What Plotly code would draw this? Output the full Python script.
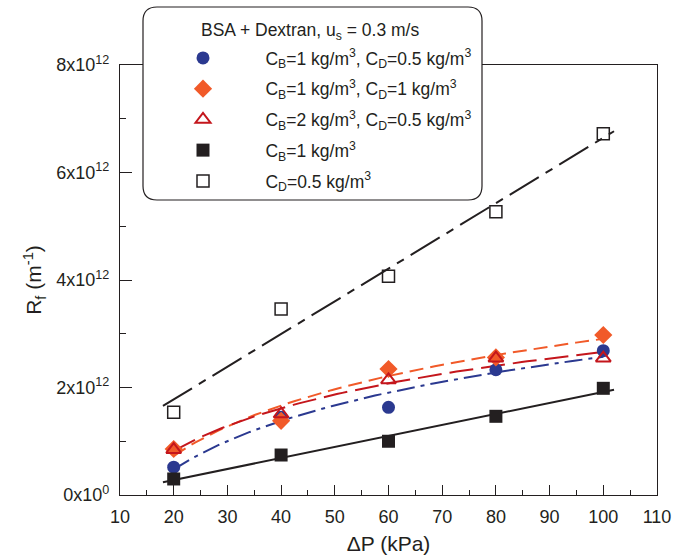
import numpy as np
import plotly.graph_objects as go

# ---- data ----
dp = [20, 40, 60, 80, 100]                       # ΔP (kPa)
rf_b1_d05 = [0.517e12, 1.446e12, 1.632e12, 2.33e12, 2.685e12]   # blue circles
rf_b1_d1 = [0.856e12, 1.38e12, 2.344e12, 2.56e12, 2.977e12]     # orange diamonds
rf_b2_d05 = [0.843e12, 1.507e12, 2.14e12, 2.545e12, 2.545e12]   # red triangles
rf_b1 = [0.298e12, 0.744e12, 1.0e12, 1.464e12, 1.985e12]        # filled squares
rf_d05 = [1.54e12, 3.46e12, 4.07e12, 5.27e12, 6.72e12]          # open squares

legend_title = "BSA + Dextran, u<sub>s</sub> = 0.3 m/s"
names = [
    "C<sub>B</sub>=1 kg/m<sup>3</sup>, C<sub>D</sub>=0.5 kg/m<sup>3</sup>",
    "C<sub>B</sub>=1 kg/m<sup>3</sup>, C<sub>D</sub>=1 kg/m<sup>3</sup>",
    "C<sub>B</sub>=2 kg/m<sup>3</sup>, C<sub>D</sub>=0.5 kg/m<sup>3</sup>",
    "C<sub>B</sub>=1 kg/m<sup>3</sup>",
    "C<sub>D</sub>=0.5 kg/m<sup>3</sup>",
]
y_tickvals = [0, 2e12, 4e12, 6e12, 8e12]
y_ticktext = ["0x10<sup>0</sup>", "2x10<sup>12</sup>", "4x10<sup>12</sup>",
              "6x10<sup>12</sup>", "8x10<sup>12</sup>"]
x_tickvals = [10, 20, 30, 40, 50, 60, 70, 80, 90, 100, 110]

BLUE = "#2b3990"
ORANGE = "#f15a29"
RED = "#c4161c"
BLACK = "#231f20"

x = np.array(dp, dtype=float)


def logfit(y, x0, x1):
    b, a = np.polyfit(np.log(x), np.array(y), 1)
    xs = np.linspace(x0, x1, 80)
    return xs, a + b * np.log(xs)


def linfit(y, x0, x1):
    b, a = np.polyfit(x, np.array(y), 1)
    xs = np.array([x0, x1])
    return xs, a + b * xs


fig = go.Figure()

# fitted curves
for y, col, dash in [
    (rf_b1_d05, BLUE, "18px,6px,4px,6px"),
    (rf_b1_d1, ORANGE, "14px,7px"),
    (rf_b2_d05, RED, "24px,8px"),
]:
    xs, ys = logfit(y, 20, 100)
    fig.add_trace(go.Scatter(x=xs, y=ys, mode="lines", showlegend=False,
                             line=dict(color=col, width=2, dash=dash),
                             hoverinfo="skip"))
xs, ys = linfit(rf_b1, 18, 102)
fig.add_trace(go.Scatter(x=xs, y=ys, mode="lines", showlegend=False,
                         line=dict(color=BLACK, width=2), hoverinfo="skip"))
xs, ys = linfit(rf_d05, 18, 102)
fig.add_trace(go.Scatter(x=xs, y=ys, mode="lines", showlegend=False,
                         line=dict(color=BLACK, width=2, dash="34px,8px,8px,8px"),
                         hoverinfo="skip"))

# markers
marker_specs = [
    (rf_b1_d05, dict(symbol="circle", size=13, color=BLUE, line=dict(width=0))),
    (rf_b1_d1, dict(symbol="diamond", size=14, color=ORANGE, line=dict(width=0))),
    (rf_b2_d05, dict(symbol="triangle-up-open", size=13, color=RED, line=dict(width=2, color=RED))),
    (rf_b1, dict(symbol="square", size=13, color=BLACK, line=dict(width=0))),
    (rf_d05, dict(symbol="square-open", size=12, color=BLACK, line=dict(width=1.5, color=BLACK))),
]
pad = "\u00a0" * 8 + "\u2009"
for i, ((y, mk), nm) in enumerate(zip(marker_specs, names)):
    fig.add_trace(go.Scatter(x=dp, y=y, mode="markers", name=pad + nm,
                             marker=mk, legendgroup=f"g{i}"))

# plot area in pixels: x 120..657, y 65..495
L, R, T, B = 120, 657, 65, 495
W, H = R - L, B - T


def px(xp):
    return (xp - L) / W


def py(yp):
    return (B - yp) / H


# rounded legend box
bx0, bx1, by0, by1, r = 143, 482, 7, 200, 14
path = (f"M {px(bx0 + r)},{py(by0)} L {px(bx1 - r)},{py(by0)} "
        f"Q {px(bx1)},{py(by0)} {px(bx1)},{py(by0 + r)} "
        f"L {px(bx1)},{py(by1 - r)} Q {px(bx1)},{py(by1)} {px(bx1 - r)},{py(by1)} "
        f"L {px(bx0 + r)},{py(by1)} Q {px(bx0)},{py(by1)} {px(bx0)},{py(by1 - r)} "
        f"L {px(bx0)},{py(by0 + r)} Q {px(bx0)},{py(by0)} {px(bx0 + r)},{py(by0)} Z")
fig.add_shape(type="path", path=path, xref="paper", yref="paper",
              line=dict(color=BLACK, width=1.2), fillcolor="white", layer="above")

fig.add_annotation(text=legend_title, xref="paper", yref="paper",
                   x=px(199), y=py(32), xanchor="left", yanchor="middle",
                   showarrow=False, font=dict(size=17.5, color=BLACK))

FONT = "Liberation Sans, Arial, sans-serif"
fig.update_layout(
    width=688, height=558,
    margin=dict(l=L, r=688 - R, t=T, b=558 - B),
    paper_bgcolor="white", plot_bgcolor="white",
    font=dict(family=FONT, size=18, color=BLACK),
    legend=dict(x=px(183), y=py(40), xanchor="left", yanchor="top",
                bgcolor="rgba(0,0,0,0)", borderwidth=0,
                font=dict(size=17.5, color=BLACK), tracegroupgap=5,
                itemsizing="trace"),
    xaxis=dict(range=[10, 110], tickmode="array", tickvals=x_tickvals,
               ticks="inside", ticklen=10, tickwidth=1, tickcolor=BLACK,
               showline=True, linecolor=BLACK, linewidth=1.2, mirror=True,
               showgrid=False, zeroline=False, ticklabelstandoff=5,
               automargin=False,
               minor=dict(ticks="inside", ticklen=5, tickwidth=1, tickcolor=BLACK,
                          dtick=5, tick0=5, showgrid=False),
               title=dict(text="ΔP (kPa)", font=dict(size=21), standoff=10),
               tickfont=dict(size=18)),
    yaxis=dict(range=[0, 8e12], tickmode="array", tickvals=y_tickvals,
               ticktext=y_ticktext,
               ticks="inside", ticklen=12, tickwidth=1, tickcolor=BLACK,
               showline=True, linecolor=BLACK, linewidth=1.2, mirror=True,
               showgrid=False, zeroline=False, ticklabelstandoff=6,
               automargin=False,
               minor=dict(ticks="inside", ticklen=6, tickwidth=1, tickcolor=BLACK,
                          tickvals=[1e12, 3e12, 5e12, 7e12], showgrid=False),
               title=dict(text="R<sub>f</sub> (m<sup>-1</sup>)", font=dict(size=21),
                          standoff=8),
               tickfont=dict(size=18)),
)

fig.write_html("out.html")
